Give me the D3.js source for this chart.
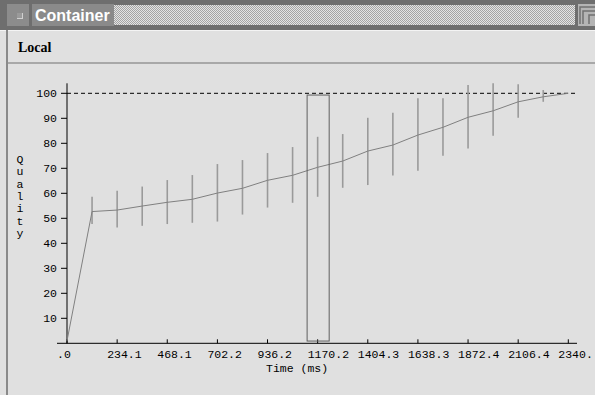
<!DOCTYPE html>
<html>
<head>
<meta charset="utf-8"/>
<title>Container</title>
<script src="https://d3js.org/d3.v7.min.js"></script>
<style>
  body { margin:0; background:#e0e0e0; overflow:hidden; }
  svg text { font-family:"Liberation Mono", monospace; font-size:11.5px; fill:#000; }
</style>
</head>
<body>
<script>
// sample times (ms) where the error bars sit
var times = [0, 117, 234.1, 351.1, 468.1, 585.1, 702.2, 819.2, 936.2, 1053.2, 1170.2,
             1287.2, 1404.3, 1521.3, 1638.3, 1755.3, 1872.4, 1989.4, 2106.4, 2223.4, 2340.4];
// mean quality at each time
var quality = [1, 52.7, 53.3, 54.9, 56.4, 57.6, 60.1, 62.0, 65.2, 67.2, 70.4,
               72.9, 76.9, 79.3, 83.3, 86.4, 90.4, 93.0, 96.6, 98.6, 100];
// error bar low/high (null = no bar)
var qLow  = [null, 47.7, 46.3, 47.0, 47.7, 48.2, 48.7, 51.5, 54.3, 56.2, 58.6,
             62.2, 63.3, 67.1, 69.0, 75.0, 77.9, 83.0, 90.2, 96.6, null];
var qHigh = [null, 58.6, 61.0, 62.7, 65.3, 67.3, 71.7, 73.3, 76.1, 78.5, 82.6,
             83.7, 90.2, 92.2, 98.0, 98.0, 103.3, 104.0, 103.6, 101.3, null];
// x ticks and their labels
var xTicks = [0, 234.1, 468.1, 702.2, 936.2, 1170.2, 1404.3, 1638.3, 1872.4, 2106.4, 2340.4];
var xTickLabels = [".0", "234.1", "468.1", "702.2", "936.2", "1170.2", "1404.3", "1638.3", "1872.4", "2106.4", "2340."];
var yTicks = [10, 20, 30, 40, 50, 60, 70, 80, 90, 100];
var target = 100;
// highlighted window
var selStart = 1121, selEnd = 1224, selLow = 0.9, selHigh = 99.3;

var W = 595, H = 395;
var svg = d3.select("body").append("svg").attr("width", W).attr("height", H);

// ---- window frame ----
var defs = svg.append("defs");
var pat = defs.append("pattern").attr("id", "dith").attr("width", 2).attr("height", 2)
  .attr("patternUnits", "userSpaceOnUse");
pat.append("rect").attr("width", 2).attr("height", 2).attr("fill", "#e4e4e4");
pat.append("rect").attr("width", 1).attr("height", 1).attr("fill", "#a4a4a4");
pat.append("rect").attr("x", 1).attr("y", 1).attr("width", 1).attr("height", 1).attr("fill", "#a4a4a4");

svg.append("rect").attr("x", 0).attr("y", 0).attr("width", W).attr("height", 30).attr("fill", "#6e6e6e");
svg.append("rect").attr("x", 7).attr("y", 4).attr("width", 22).attr("height", 22).attr("fill", "#8c8c8c");
svg.append("rect").attr("x", 17).attr("y", 13).attr("width", 6).attr("height", 6).attr("fill", "#d0d0d0");
svg.append("rect").attr("x", 17).attr("y", 13).attr("width", 5).attr("height", 5).attr("fill", "#9a9a9a");
svg.append("rect").attr("x", 32).attr("y", 4).attr("width", 82).attr("height", 22).attr("fill", "#8a8a8a");
svg.append("text").attr("x", 35).attr("y", 21)
  .style("font-family", "'Liberation Sans', Arial, sans-serif").style("font-size", "16px")
  .style("font-weight", "bold").style("fill", "#fff").text("Container");
svg.append("rect").attr("x", 114).attr("y", 5).attr("width", 461).attr("height", 20).attr("fill", "url(#dith)");
var ic = svg.append("g");
ic.append("rect").attr("x", 578).attr("y", 4).attr("width", 17).attr("height", 22).attr("fill", "#b4b4b4");
ic.append("path").attr("d", "M580,24V7H595M583,24V11H595M589,24V15H595")
  .attr("fill", "none").attr("stroke", "#707070").attr("stroke-width", 1.5);

svg.append("rect").attr("x", 0).attr("y", 30).attr("width", W).attr("height", 1).attr("fill", "#f4f4f4");
svg.append("rect").attr("x", 6).attr("y", 30).attr("width", 2).attr("height", H - 30).attr("fill", "#8a8a8a");
svg.append("text").attr("x", 18).attr("y", 52)
  .style("font-family", "'Liberation Serif', serif").style("font-size", "14px")
  .style("font-weight", "bold").text("Local");
svg.append("rect").attr("x", 8).attr("y", 62).attr("width", W - 8).attr("height", 2).attr("fill", "#a8a8a8");

// ---- chart ----
var x = d3.scaleLinear().domain([0, 2340.4]).range([67, 568.3]);
var y = d3.scaleLinear().domain([0, 100]).range([343.3, 93.3]);

// axes lines
svg.append("line").attr("x1", 67).attr("x2", 67).attr("y1", y(104)).attr("y2", y(0))
  .attr("stroke", "#000");
svg.append("line").attr("x1", 57).attr("x2", 577).attr("y1", y(0)).attr("y2", y(0))
  .attr("stroke", "#000");

// y ticks
var yt = svg.append("g").selectAll("g").data(yTicks).join("g");
yt.append("line").attr("x1", 61).attr("x2", 67).attr("y1", d => y(d)).attr("y2", d => y(d)).attr("stroke", "#000");
yt.append("text").attr("x", 57).attr("y", d => y(d)).attr("dy", "0.35em")
  .attr("text-anchor", "end").text(d => d);

// x ticks
var xt = svg.append("g").selectAll("g").data(xTicks).join("g");
xt.append("line").attr("x1", d => x(d)).attr("x2", d => x(d)).attr("y1", y(0) - 4).attr("y2", y(0)).attr("stroke", "#000");
xt.append("text").attr("x", d => x(d) - 10).attr("y", 358).text((d, i) => xTickLabels[i]);

svg.append("text").attr("x", 266).attr("y", 372).text("Time (ms)");
var ql = "Quality".split("");
svg.append("g").selectAll("text").data(ql).join("text")
  .attr("x", 20).attr("y", (d, i) => 159 + i * 12.3).attr("dy", "0.35em")
  .attr("text-anchor", "middle").text(d => d);

// target line
svg.append("line").attr("x1", x(0)).attr("x2", 577).attr("y1", y(target)).attr("y2", y(target))
  .attr("stroke", "#000").attr("stroke-dasharray", "4,3");

// error bars
var bars = times.map((t, i) => ({t: t, lo: qLow[i], hi: qHigh[i]})).filter(d => d.lo != null);
svg.append("g").selectAll("line").data(bars).join("line")
  .attr("x1", d => x(d.t)).attr("x2", d => x(d.t))
  .attr("y1", d => y(d.lo)).attr("y2", d => y(d.hi))
  .attr("stroke", "#9a9a9a").attr("stroke-width", 1.6);

// mean line
svg.append("path").datum(times.map((t, i) => [t, quality[i]]))
  .attr("d", d3.line().x(d => x(d[0])).y(d => y(d[1])))
  .attr("fill", "none").attr("stroke", "#808080").attr("stroke-width", 1);

// selection box
svg.append("rect").attr("x", x(selStart)).attr("y", y(selHigh))
  .attr("width", x(selEnd) - x(selStart)).attr("height", y(selLow) - y(selHigh))
  .attr("fill", "none").attr("stroke", "#606060").attr("stroke-width", 1);
</script>
</body>
</html>
